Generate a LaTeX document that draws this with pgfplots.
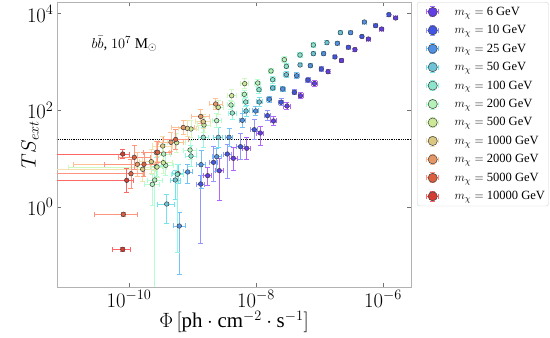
\documentclass[border=0pt]{standalone}
\usepackage{pgfplots}
\pgfplotsset{compat=1.18}
\usepackage{fontspec}
\setmainfont{Liberation Serif}

% rainbow colours (error bars) and marker fills
\definecolor{e1}{RGB}{128,0,255}
\definecolor{e2}{RGB}{77,79,252}
\definecolor{e3}{RGB}{26,150,243}
\definecolor{e4}{RGB}{26,206,227}
\definecolor{e5}{RGB}{77,243,206}
\definecolor{e6}{RGB}{128,255,180}
\definecolor{e7}{RGB}{179,243,150}
\definecolor{e8}{RGB}{230,206,116}
\definecolor{e9}{RGB}{255,150,79}
\definecolor{e10}{RGB}{255,79,40}
\definecolor{e11}{RGB}{255,0,0}
\definecolor{f1}{RGB}{98,60,228}
\definecolor{f2}{RGB}{66,84,228}
\definecolor{f3}{RGB}{80,145,228}
\definecolor{f4}{RGB}{110,195,215}
\definecolor{f5}{RGB}{140,228,205}
\definecolor{f6}{RGB}{180,242,185}
\definecolor{f7}{RGB}{205,232,150}
\definecolor{f8}{RGB}{218,200,130}
\definecolor{f9}{RGB}{228,150,100}
\definecolor{f10}{RGB}{218,95,62}
\definecolor{f11}{RGB}{210,60,50}

\pgfplotsset{
  ser/.style 2 args={
    only marks, mark=*, mark size=2.3bp,
    mark options={fill=#1, draw=black!75, line width=0.5bp},
    legend image code/.code={
      \path[draw=none, fill=none] (0bp,0bp) -- (34bp,0bp);
      \draw[#2!60, line width=0.9bp, mark=none]
        (14bp,-5bp) -- (14bp,5bp) (8bp,0bp) -- (20bp,0bp)
        (11.5bp,-5bp) -- (16.5bp,-5bp) (11.5bp,5bp) -- (16.5bp,5bp)
        (8bp,-2.5bp) -- (8bp,2.5bp) (20bp,-2.5bp) -- (20bp,2.5bp);
      \draw[draw=none, mark=*, mark size=4.6bp,
        mark options={fill=#1, draw=black!75, line width=0.5bp}]
        plot coordinates {(14bp,0bp)};
    },
    error bars/.cd, x dir=both, x explicit, y dir=both, y explicit,
    error bar style={#2!60, line width=0.9bp},
    error mark options={rotate=90, #2!60, line width=0.9bp, mark size=2.5bp},
  },
  table/tab/.style={x=x, y=y, x error minus=exm, x error plus=exp, y error minus=eym, y error plus=eyp},
}

\begin{document}
\begin{tikzpicture}
\begin{axis}[
  at={(0,0)}, anchor=south west,
  scale only axis, width=354bp, height=285bp,
  xmin=-11.134, xmax=-5.559, ymin=-1.656, ymax=4.244,
  xtick={-10,-8,-6}, xticklabels={$10^{-10}$,$10^{-8}$,$10^{-6}$},
  ytick={0,2,4}, yticklabels={$10^{0}$,$10^{2}$,$10^{4}$},
  minor tick num=0,
  tick align=inside, xtick pos=both, ytick pos=both,
  major tick length=4bp,
  tick style={black!55, line width=0.6bp},
  axis line style={black!30, line width=0.7bp},
  ticklabel style={font=\fontsize{21}{24}\selectfont},
  label style={font=\fontsize{21}{24}\selectfont},
  xlabel={$\Phi\,[\mathrm{ph}\cdot\mathrm{cm}^{-2}\cdot\mathrm{s}^{-1}]$},
  ylabel={$TS_{ext}$},
  xlabel style={at={(axis description cs:0.5,-0.123)}, anchor=center},
  ylabel style={at={(axis description cs:-0.076,0.5)}, anchor=center},
  legend style={at={(axis description cs:1.017,1)}, anchor=north west,
    draw=black!18, rounded corners=2.5bp, fill=white,
    font=\fontsize{12.6}{15}\selectfont, row sep=0pt,
    inner xsep=1.5bp, inner ysep=0.5bp,
    nodes={inner ysep=4.3bp, inner xsep=2bp}},
  legend cell align=left,
]

% TS = 25 threshold
\addplot[black, densely dotted, line width=0.8bp, forget plot] coordinates {(-11.2,1.398) (-5.5,1.398)};

% 6 GeV
\addplot[ser={f1}{e1}] table[tab] {
x y exm exp eym eyp
-5.800 3.913 0.03 0.03 0.03 0.03
-6.020 3.685 0.03 0.03 0.03 0.03
-6.231 3.478 0.03 0.03 0.03 0.03
-6.441 3.257 0.03 0.03 0.03 0.03
-6.654 3.033 0.03 0.03 0.04 0.04
-6.866 2.801 0.03 0.03 0.04 0.04
-7.079 2.557 0.04 0.04 0.06 0.06
-7.299 2.304 0.04 0.04 0.06 0.06
-7.512 2.091 0.05 0.05 0.08 0.08
-7.724 1.781 0.05 0.05 0.10 0.10
-7.932 1.532 0.055 0.055 0.25 0.145
-8.146 1.215 0.063 0.063 0.23 0.23
-8.357 1.008 0.063 0.063 0.25 0.23
-8.578 0.752 0.063 0.063 0.62 0.25
-8.761 0.648 0.063 0.063 0.21 0.17
};
\addlegendentry{$m_{\chi}=$ 6 GeV}

% 10 GeV
\addplot[ser={f2}{e2}] table[tab] {
x y exm exp eym eyp
-5.906 3.981 0.03 0.03 0.03 0.03
-6.115 3.754 0.03 0.03 0.03 0.03
-6.331 3.530 0.03 0.03 0.03 0.03
-6.546 3.306 0.03 0.03 0.03 0.03
-6.756 3.106 0.03 0.03 0.03 0.03
-6.972 2.857 0.035 0.035 0.05 0.05
-7.181 2.629 0.035 0.035 0.05 0.05
-7.397 2.375 0.035 0.035 0.05 0.05
-7.606 2.168 0.04 0.04 0.07 0.07
-7.819 1.890 0.05 0.05 0.10 0.10
-8.027 1.600 0.055 0.055 0.21 0.21
-8.244 1.248 0.06 0.06 0.27 0.27
-8.452 1.097 0.06 0.06 0.50 0.20
-8.669 0.925 0.06 0.06 0.40 0.33
-8.871 0.476 0.06 0.06 1.24 0.17
};
\addlegendentry{$m_{\chi}=$ 10 GeV}

% 25 GeV
\addplot[ser={f3}{e3}] table[tab] {
x y exm exp eym eyp
-6.294 3.830 0.03 0.03 0.03 0.03
-6.509 3.609 0.03 0.03 0.03 0.03
-6.720 3.389 0.03 0.03 0.03 0.03
-6.934 3.174 0.03 0.03 0.04 0.04
-7.145 2.925 0.03 0.03 0.04 0.04
-7.359 2.718 0.04 0.04 0.06 0.06
-7.580 2.443 0.04 0.04 0.06 0.06
-7.791 2.230 0.04 0.04 0.06 0.06
-8.005 1.988 0.045 0.045 0.09 0.09
-8.216 1.795 0.05 0.05 0.14 0.14
-8.425 1.443 0.06 0.06 0.18 0.18
-8.619 1.041 0.07 0.07 0.31 0.18
-8.866 0.876 0.07 0.07 0.50 0.30
-9.076 0.725 0.074 0.074 0.23 0.15
-9.208 -0.393 0.094 0.09 1.01 0.275
};
\addlegendentry{$m_{\chi}=$ 25 GeV}

% 50 GeV
\addplot[ser={f4}{e4}] table[tab] {
x y exm exp eym eyp
-6.672 3.609 0.03 0.03 0.04 0.04
-6.882 3.402 0.03 0.03 0.04 0.04
-7.098 3.174 0.03 0.03 0.04 0.04
-7.307 2.940 0.03 0.03 0.04 0.04
-7.523 2.739 0.04 0.04 0.06 0.06
-7.737 2.464 0.04 0.04 0.06 0.06
-7.948 2.174 0.045 0.045 0.10 0.10
-8.157 1.988 0.05 0.05 0.12 0.12
-8.594 1.443 0.07 0.07 0.20 0.20
-9.228 0.689 0.08 0.08 0.20 0.20
-9.271 0.559 0.08 0.08 0.40 0.20
-9.406 0.062 0.148 0.12 0.40 0.19
};
\addlegendentry{$m_{\chi}=$ 50 GeV}

% 100 GeV
\addplot[ser={f5}{e5}] table[tab] {
x y exm exp eym eyp
-7.098 3.354 0.035 0.035 0.05 0.05
-7.307 3.147 0.035 0.035 0.05 0.05
-7.523 2.913 0.035 0.035 0.05 0.05
-7.737 2.636 0.04 0.04 0.07 0.07
-7.953 2.429 0.04 0.04 0.07 0.07
-8.162 2.174 0.05 0.05 0.10 0.10
-8.373 1.946 0.06 0.06 0.13 0.13
-8.830 1.443 0.08 0.08 0.20 0.20
-9.024 1.056 0.09 0.09 0.22 0.22
-9.239 0.677 0.09 0.09 1.61 0.20
-9.570 0.834 0.10 0.10 0.20 0.20
};
\addlegendentry{$m_{\chi}=$ 100 GeV}

% 200 GeV
\addplot[ser={f6}{e6}] table[tab] {
x y exm exp eym eyp
-7.554 3.050 0.04 0.04 0.06 0.06
-7.764 2.816 0.04 0.04 0.06 0.06
-7.973 2.567 0.05 0.05 0.08 0.08
-8.184 2.333 0.05 0.05 0.08 0.08
-8.394 2.112 0.06 0.06 0.10 0.10
-8.619 1.787 0.07 0.07 0.14 0.14
-9.039 1.180 0.10 0.10 0.20 0.20
-9.454 1.097 0.10 0.10 0.20 0.20
-9.422 0.863 0.12 0.12 0.22 0.22
-9.633 0.470 0.12 0.12 0.43 0.20
-9.595 0.559 0.12 0.12 2.60 0.20
};
\addlegendentry{$m_{\chi}=$ 200 GeV}

% 500 GeV
\addplot[ser={f7}{e7}] table[tab] {
x y exm exp eym eyp
-8.178 2.553 0.06 0.06 0.10 0.10
-8.383 2.304 0.07 0.07 0.12 0.12
-8.594 2.064 0.08 0.08 0.14 0.14
-8.819 1.698 0.10 0.10 0.16 0.16
-9.024 1.615 0.12 0.12 0.18 0.18
-9.249 1.331 0.14 0.14 0.20 0.20
-9.460 0.917 0.15 0.15 0.22 0.22
-9.559 0.828 1.40 0.15 0.22 0.22
};
\addlegendentry{$m_{\chi}=$ 500 GeV}

% 1000 GeV
\addplot[ser={f8}{e8}] table[tab] {
x y exm exp eym eyp
-8.830 1.766 0.12 0.12 0.14 0.14
-9.082 1.629 0.14 0.14 0.16 0.16
-9.469 1.263 0.16 0.16 0.20 0.20
-9.649 0.938 0.18 0.18 0.25 0.25
-9.784 0.781 1.50 0.20 0.25 0.25
};
\addlegendentry{$m_{\chi}=$ 1000 GeV}

% 2000 GeV
\addplot[ser={f9}{e9}] table[tab] {
x y exm exp eym eyp
-8.635 2.133 0.10 0.10 0.12 0.12
-8.871 1.874 0.14 0.14 0.14 0.14
-9.145 1.646 0.18 0.18 0.15 0.15
-9.339 1.340 0.20 0.20 0.20 0.20
-9.570 1.128 0.20 0.20 0.22 0.22
-9.869 0.884 1.00 0.20 0.25 0.25
};
\addlegendentry{$m_{\chi}=$ 2000 GeV}

% 5000 GeV
\addplot[ser={f10}{e10}] table[tab] {
x y exm exp eym eyp
-9.265 1.398 0.20 0.20 0.20 0.20
-9.548 1.133 0.22 0.22 0.22 0.22
-9.917 1.029 0.25 0.25 0.25 0.25
-9.764 0.884 0.62 0.20 0.25 0.25
-9.969 0.689 1.30 0.20 0.30 0.30
-10.090 -0.151 0.457 0.22 0.04 0.04
};
\addlegendentry{$m_{\chi}=$ 5000 GeV}

% 10000 GeV
\addplot[ser={f11}{e11}] table[tab] {
x y exm exp eym eyp
-10.099 1.097 1.50 0.10 0.10 0.10
-10.036 0.553 1.30 0.10 0.25 0.25
-10.099 -0.876 0.157 0.115 0.04 0.04
};
\addlegendentry{$m_{\chi}=$ 10000 GeV}

\node[anchor=west, font=\fontsize{15}{17}\selectfont] at (axis description cs:0.088,0.853) {$b\bar{b}$, $10^{7}$ M$_{\odot}$};
\end{axis}
\pgfresetboundingbox
\path (-57bp,-51bp) rectangle (493bp,287bp);
\end{tikzpicture}
\end{document}
